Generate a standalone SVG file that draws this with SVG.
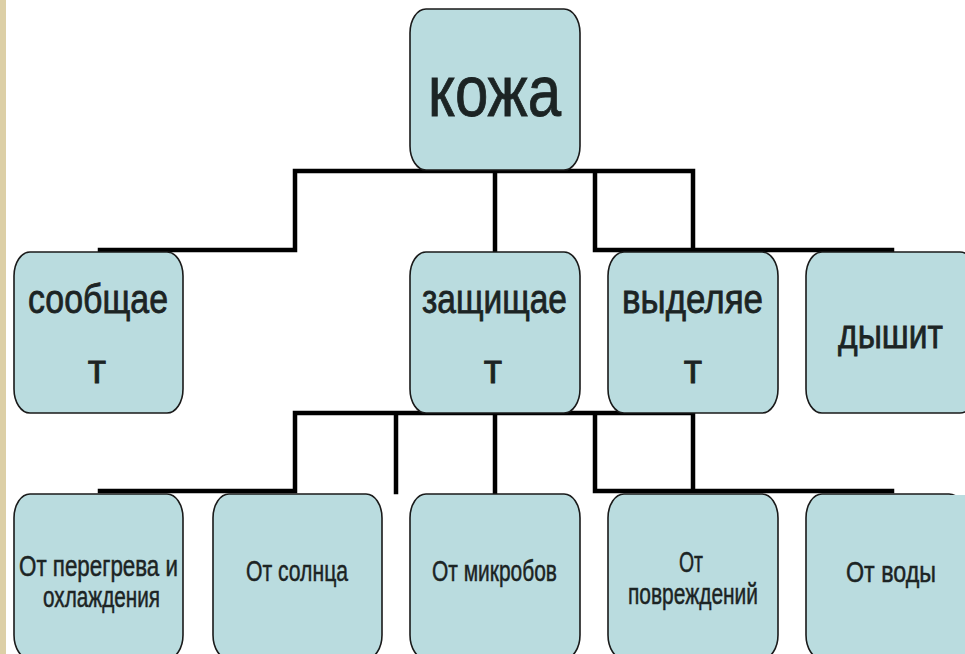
<svg xmlns="http://www.w3.org/2000/svg" width="965" height="654" viewBox="0 0 965 654">
<style>
.box{fill:#badcdf;stroke:#1a1a1a;stroke-width:1.6}
.lbl{font-family:"Liberation Sans",Arial,sans-serif;fill:#1c2424;stroke:#1c2424}
.big{font-size:72px;stroke-width:0.9}
.mid{font-size:40px;stroke-width:0.8}
.sm{font-size:30px;stroke-width:0.5}
.sm2{font-size:29px;stroke-width:0.5}
.con{fill:none;stroke:#000;stroke-width:4.5;stroke-linejoin:miter;stroke-linecap:square}
</style>
<rect x="0" y="0" width="965" height="654" fill="#ffffff"/>
<rect x="0" y="0" width="6" height="654" fill="#dccfa6"/>
<g id="connectors">
<path class="con" d="M295 171 H693 M295 171 V250 H100 M495 171 V252 M595 171 V250 H892 M693 171 V250"/>
<path class="con" d="M295 413 H693 M295 413 V491 H100 M396 413 V492 M495 413 V494 M595 413 V491 H892 M693 413 V491"/>
</g>
<g id="node-koja">
<rect class="box" x="410" y="9" width="170" height="161" rx="16" ry="24"/>
<text class="lbl big" x="428" y="116" textLength="133" lengthAdjust="spacingAndGlyphs">кожа</text>
</g>
<g id="node-soobshaet">
<rect class="box" x="14" y="252" width="169" height="161" rx="16" ry="24"/>
<text class="lbl mid" x="28" y="313" textLength="140" lengthAdjust="spacingAndGlyphs">сообщае</text>
<text class="lbl mid" x="97" y="383" text-anchor="middle">т</text>
</g>
<g id="node-zashishaet">
<rect class="box" x="410" y="252" width="170" height="161" rx="16" ry="24"/>
<text class="lbl mid" x="422" y="313" textLength="145" lengthAdjust="spacingAndGlyphs">защищае</text>
<text class="lbl mid" x="493" y="383" text-anchor="middle">т</text>
</g>
<g id="node-vydelyaet">
<rect class="box" x="608" y="252" width="170" height="161" rx="16" ry="24"/>
<text class="lbl mid" x="622" y="313" textLength="141" lengthAdjust="spacingAndGlyphs">выделяе</text>
<text class="lbl mid" x="693" y="383" text-anchor="middle">т</text>
</g>
<g id="node-dyshit">
<rect class="box" x="806" y="252" width="170" height="161" rx="16" ry="24"/>
<text class="lbl mid" x="838" y="348" textLength="105" lengthAdjust="spacingAndGlyphs">дышит</text>
</g>
<g id="node-peregrev">
<rect class="box" x="14" y="494" width="169" height="165" rx="16" ry="24"/>
<text class="lbl sm2" x="19" y="576" textLength="159" lengthAdjust="spacingAndGlyphs">От перегрева и</text>
<text class="lbl sm2" x="43" y="607" textLength="117" lengthAdjust="spacingAndGlyphs">охлаждения</text>
</g>
<g id="node-solnce">
<rect class="box" x="213" y="494" width="169" height="165" rx="16" ry="24"/>
<text class="lbl sm" x="246" y="581" textLength="102" lengthAdjust="spacingAndGlyphs">От солнца</text>
</g>
<g id="node-mikroby">
<rect class="box" x="410" y="494" width="170" height="165" rx="16" ry="24"/>
<text class="lbl sm" x="432" y="581" textLength="125" lengthAdjust="spacingAndGlyphs">От микробов</text>
</g>
<g id="node-povrezhdeniya">
<rect class="box" x="608" y="494" width="170" height="165" rx="16" ry="24"/>
<text class="lbl sm" x="679" y="572" textLength="24" lengthAdjust="spacingAndGlyphs">От</text>
<text class="lbl sm" x="628" y="604" textLength="130" lengthAdjust="spacingAndGlyphs">повреждений</text>
</g>
<g id="node-voda">
<rect class="box" x="806" y="494" width="159" height="165" rx="16" ry="24"/>
<rect x="940" y="495" width="25" height="159" fill="#badcdf"/>
<text class="lbl sm" x="846" y="582" textLength="90" lengthAdjust="spacingAndGlyphs">От воды</text>
</g>
</svg>
